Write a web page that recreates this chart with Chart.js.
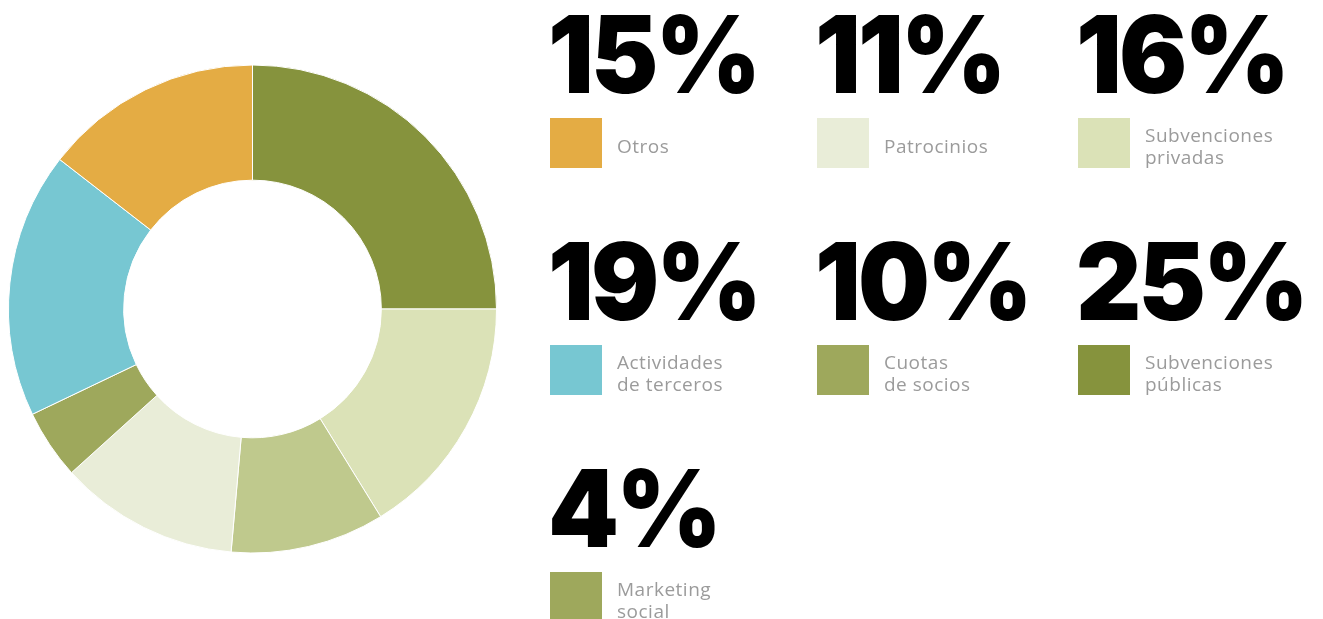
<!DOCTYPE html>
<html>
<head>
<meta charset="utf-8">
<script src="https://cdn.jsdelivr.net/npm/chart.js@4/dist/chart.umd.min.js"></script>
<style>
  html, body { margin: 0; padding: 0; background: #fff; }
  #chart { display: block; }
</style>
</head>
<body>
<canvas id="chart" width="1323" height="619"></canvas>
<script>
// slices, clockwise from 12 o'clock
const categories = ['Subvenciones públicas', 'Subvenciones privadas', 'Cuotas de socios', 'Patrocinios', 'Marketing social', 'Actividades de terceros', 'Otros'];
const sliceValues = [25, 16.2, 10.2, 11.9, 4.6, 17.6, 14.5];
const percentLabels = ['25%', '16%', '10%', '11%', '4%', '19%', '15%'];
const labelLines = [['Subvenciones', 'públicas'], ['Subvenciones', 'privadas'], ['Cuotas', 'de socios'], ['Patrocinios'], ['Marketing', 'social'], ['Actividades', 'de terceros'], ['Otros']];
const sliceColors = ['#86933d', '#dbe2b7', '#bfc98d', '#e9edd8', '#9ea85c', '#77c7d2', '#e4ac44'];
const swatchColors = ['#86933d', '#dbe2b7', '#9ea85c', '#e9edd8', '#9ea85c', '#77c7d2', '#e4ac44'];
// order of the legend grid, left to right, top to bottom
const legendOrder = [6, 3, 1, 5, 2, 0, 4];

const legendGrid = {
  id: 'legendGrid',
  afterDraw(chart) {
    const ctx = chart.ctx;
    const colX = [550, 817, 1078];
    legendOrder.forEach((idx, n) => {
      const x = colX[n % 3];
      const top = Math.floor(n / 3) * 227;

      // big percentage, squeezed a little to the width of the original face
      ctx.save();
      ctx.translate(x - 2, top + 93);
      ctx.scale(0.945, 1);
      ctx.fillStyle = '#000';
      ctx.font = '900 107px Inter';
      ctx.letterSpacing = '-3px';
      ctx.textBaseline = 'alphabetic';
      ctx.fillText(percentLabels[idx], 0, 0);
      ctx.restore();

      ctx.save();
      ctx.fillStyle = swatchColors[idx];
      ctx.fillRect(x, top + 118, 52, 50);

      ctx.fillStyle = '#9b9b9b';
      ctx.font = '400 19px "Open Sans"';
      ctx.letterSpacing = '0.5px';
      const lines = labelLines[idx];
      if (lines.length === 1) {
        ctx.fillText(lines[0], x + 67, top + 152.5);
      } else {
        ctx.fillText(lines[0], x + 67, top + 141.5);
        ctx.fillText(lines[1], x + 67, top + 163.5);
      }
      ctx.restore();
    });
  }
};

new Chart(document.getElementById('chart'), {
  type: 'doughnut',
  data: {
    labels: categories,
    datasets: [{
      data: sliceValues,
      backgroundColor: sliceColors,
      borderColor: '#ffffff',
      borderWidth: 1
    }]
  },
  options: {
    responsive: false,
    animation: false,
    cutout: '52.8%',
    layout: { padding: { left: 8, top: 64.5, right: 826, bottom: 65.5 } },
    plugins: {
      legend: { display: false },
      tooltip: { enabled: false }
    }
  },
  plugins: [legendGrid]
});
</script>
</body>
</html>
